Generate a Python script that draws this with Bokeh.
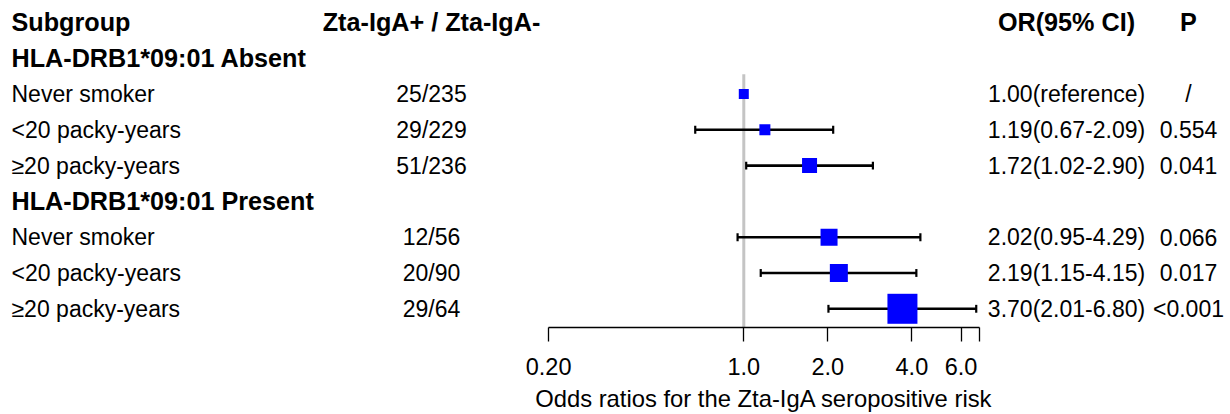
from bokeh.plotting import figure
from bokeh.models import Range1d, ColumnDataSource, FixedTicker, LinearScale
from bokeh.core.properties import value
from bokeh.embed import file_html
from bokeh.resources import INLINE

# ---------------- data ----------------
row_labels = ["Subgroup", "HLA-DRB1*09:01 Absent", "Never smoker", "<20 packy-years",
              "≥20 packy-years", "HLA-DRB1*09:01 Present", "Never smoker",
              "<20 packy-years", "≥20 packy-years"]
row_bold = [True, True, False, False, False, True, False, False, False]
counts = ["Zta-IgA+ / Zta-IgA-", "", "25/235", "29/229", "51/236", "", "12/56", "20/90", "29/64"]
or_text = ["OR(95% CI)", "", "1.00(reference)", "1.19(0.67-2.09)", "1.72(1.02-2.90)", "",
           "2.02(0.95-4.29)", "2.19(1.15-4.15)", "3.70(2.01-6.80)"]
p_text = ["P", "", "/", "0.554", "0.041", "", "0.066", "0.017", "<0.001"]

est_rows = [2, 3, 4, 6, 7, 8]
or_est = [1.00, 1.19, 1.72, 2.02, 2.19, 3.70]
ci_rows = [3, 4, 6, 7, 8]
ci_low = [0.67, 1.02, 0.95, 1.15, 2.01]
ci_high = [2.09, 2.90, 4.29, 4.15, 6.80]

tick_values = [0.2, 1.0, 2.0, 4.0, 6.0, 7.0]
tick_labels = ["0.20", "1.0", "2.0", "4.0", "6.0", ""]
x_title = "Odds ratios for the Zta-IgA seropositive risk"

# ---------------- style / layout ----------------
FONT = "Liberation Sans"
W, H = 1230, 414
box_px = [10, 11, 15, 17, 18, 30]
AXIS_Y = 8.522
LINE_TOP = 1.45
CAP = 0.11

p = figure(width=W, height=H, output_backend="svg", toolbar_location=None,
           x_axis_type="log", y_axis_location=None,
           x_range=Range1d(10 ** -2.6622, 10 ** 1.7432),
           y_range=Range1d(10.953, -0.6117),
           min_border=0, min_border_left=0, min_border_right=0,
           min_border_top=0, min_border_bottom=0)
p.extra_x_ranges = {"tbl": Range1d(0, W)}
p.extra_x_scales = {"tbl": LinearScale()}
p.outline_line_color = None
p.xgrid.visible = False
p.ygrid.visible = False
p.background_fill_color = "white"
p.border_fill_color = "white"

# reference line at OR = 1
p.segment(x0=[1.0], y0=[LINE_TOP], x1=[1.0], y1=[AXIS_Y],
          line_color="#c4c4c4", line_width=3)

# confidence intervals
ci = ColumnDataSource(dict(y=ci_rows, lo=ci_low, hi=ci_high,
                           ylo=[r - CAP for r in ci_rows], yhi=[r + CAP for r in ci_rows]))
p.segment(x0="lo", y0="y", x1="hi", y1="y", source=ci, line_color="black", line_width=2.6)
p.segment(x0="lo", y0="ylo", x1="lo", y1="yhi", source=ci, line_color="black", line_width=2.2)
p.segment(x0="hi", y0="ylo", x1="hi", y1="yhi", source=ci, line_color="black", line_width=2.2)

# point estimates
est = ColumnDataSource(dict(x=or_est, y=est_rows, s=box_px))
p.scatter(x="x", y="y", size="s", marker="square", source=est,
          fill_color="#0000ff", line_color=None)

# table text
rows = list(range(len(row_labels)))
columns = [(row_labels, 11, "left"), (counts, 431, "center"),
           (or_text, 1066, "center"), (p_text, 1188, "center")]
for ci_idx, (texts, xpos, align) in enumerate(columns):
    for bold in (True, False):
        xs, ys, ts = [], [], []
        for r in rows:
            b = row_bold[r] if ci_idx == 0 else (r == 0)
            if b == bold and texts[r]:
                xs.append(xpos)
                ys.append(r)
                ts.append(texts[r])
        if not ts:
            continue
        src = ColumnDataSource(dict(x=xs, y=ys, t=ts))
        p.text(x="x", y="y", text="t", source=src, x_range_name="tbl",
               text_font=value(FONT),
               text_font_size="25.2px" if bold else "23px",
               text_font_style="bold" if bold else "normal",
               text_align=align, text_baseline="middle", text_color="black")

# x axis
ax = p.xaxis[0]
ax.fixed_location = AXIS_Y
ax.bounds = (0.19999, 7.00001)
ax.ticker = FixedTicker(ticks=tick_values, minor_ticks=[])
ax.major_label_overrides = {v: l for v, l in zip(tick_values, tick_labels)}
ax.axis_line_color = "black"
ax.axis_line_width = 1.3
ax.major_tick_line_color = "black"
ax.major_tick_line_width = 1.3
ax.major_tick_in = 0
ax.major_tick_out = 14
ax.minor_tick_line_color = None
ax.major_label_text_font = FONT
ax.major_label_text_font_size = "23.5px"
ax.major_label_text_color = "black"
ax.major_label_standoff = 17
ax.axis_label = x_title
ax.axis_label_text_font = FONT
ax.axis_label_text_font_size = "23.8px"
ax.axis_label_text_font_style = "normal"
ax.axis_label_text_color = "black"
ax.axis_label_standoff = 6

open("out.html", "w").write(file_html(p, INLINE))
